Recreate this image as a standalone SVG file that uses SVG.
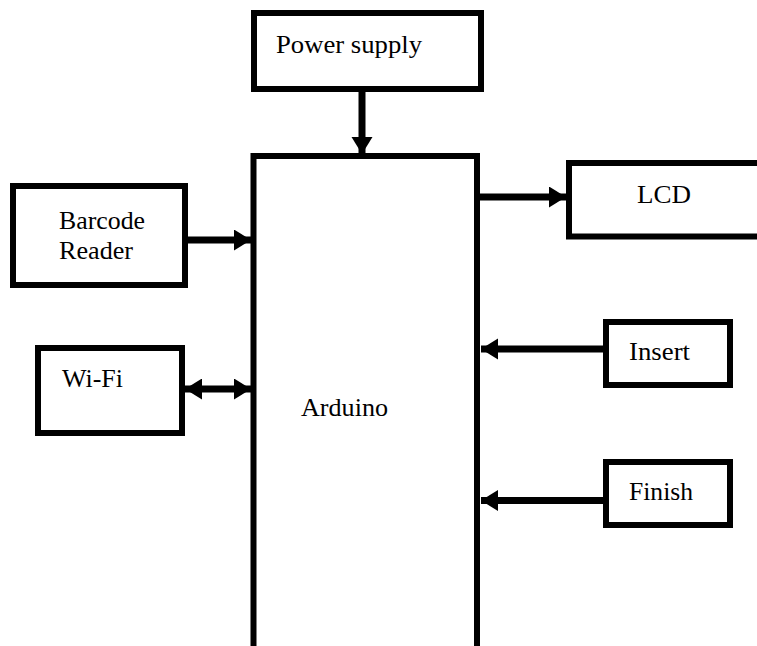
<svg xmlns="http://www.w3.org/2000/svg" width="757" height="646" viewBox="0 0 757 646">
<style>
.box{fill:#fff;stroke:#000;stroke-width:6}
.lbl{font-family:"Liberation Serif",Tinos,"Times New Roman",Times,"DejaVu Serif","Noto Serif",serif;font-size:26px;fill:#000}
.conn{stroke:#000;stroke-width:7;fill:none}
</style>
<defs>
<marker id="ah" markerUnits="userSpaceOnUse" markerWidth="18" markerHeight="22" refX="17" refY="10.5" orient="auto">
<path d="M0,0 L17,10.5 L0,21 z" fill="#000"/>
</marker>
<marker id="as" markerUnits="userSpaceOnUse" markerWidth="18" markerHeight="22" refX="0" refY="10.5" orient="auto">
<path d="M17,0 L0,10.5 L17,21 z" fill="#000"/>
</marker>
</defs>
<rect width="757" height="646" fill="#fff"/>
<g id="arduino">
<rect class="box" x="253.5" y="156" width="223.5" height="520"/>
<text class="lbl" x="301" y="416" textLength="87" lengthAdjust="spacingAndGlyphs">Arduino</text>
</g>
<g id="power">
<rect class="box" x="254" y="13" width="227" height="76"/>
<text class="lbl" x="276" y="53" textLength="146" lengthAdjust="spacingAndGlyphs">Power supply</text>
</g>
<g id="barcode">
<rect class="box" x="13" y="186" width="172" height="99"/>
<text class="lbl" x="59" y="229" textLength="86" lengthAdjust="spacingAndGlyphs">Barcode</text>
<text class="lbl" x="59" y="259" textLength="74" lengthAdjust="spacingAndGlyphs">Reader</text>
</g>
<g id="wifi">
<rect class="box" x="38" y="348" width="144" height="85"/>
<text class="lbl" x="62" y="387" textLength="61" lengthAdjust="spacingAndGlyphs">Wi-Fi</text>
</g>
<g id="lcd">
<rect class="box" x="569" y="163" width="200" height="73.5"/>
<text class="lbl" x="637" y="203" textLength="54" lengthAdjust="spacingAndGlyphs">LCD</text>
</g>
<g id="insert">
<rect class="box" x="606" y="322" width="124" height="63"/>
<text class="lbl" x="629" y="360" textLength="61" lengthAdjust="spacingAndGlyphs">Insert</text>
</g>
<g id="finish">
<rect class="box" x="606" y="462" width="124" height="63"/>
<text class="lbl" x="629" y="500" textLength="64" lengthAdjust="spacingAndGlyphs">Finish</text>
</g>
<g id="connectors">
<line class="conn" x1="362" y1="92" x2="362" y2="154" marker-end="url(#ah)"/>
<line class="conn" x1="188" y1="240" x2="251" y2="240" marker-end="url(#ah)"/>
<line class="conn" x1="185" y1="389" x2="251" y2="389" marker-start="url(#as)" marker-end="url(#ah)"/>
<line class="conn" x1="480" y1="197" x2="566" y2="197" marker-end="url(#ah)"/>
<line class="conn" x1="603" y1="349" x2="481" y2="349" marker-end="url(#ah)"/>
<line class="conn" x1="603" y1="500.5" x2="481" y2="500.5" marker-end="url(#ah)"/>
</g>
</svg>
